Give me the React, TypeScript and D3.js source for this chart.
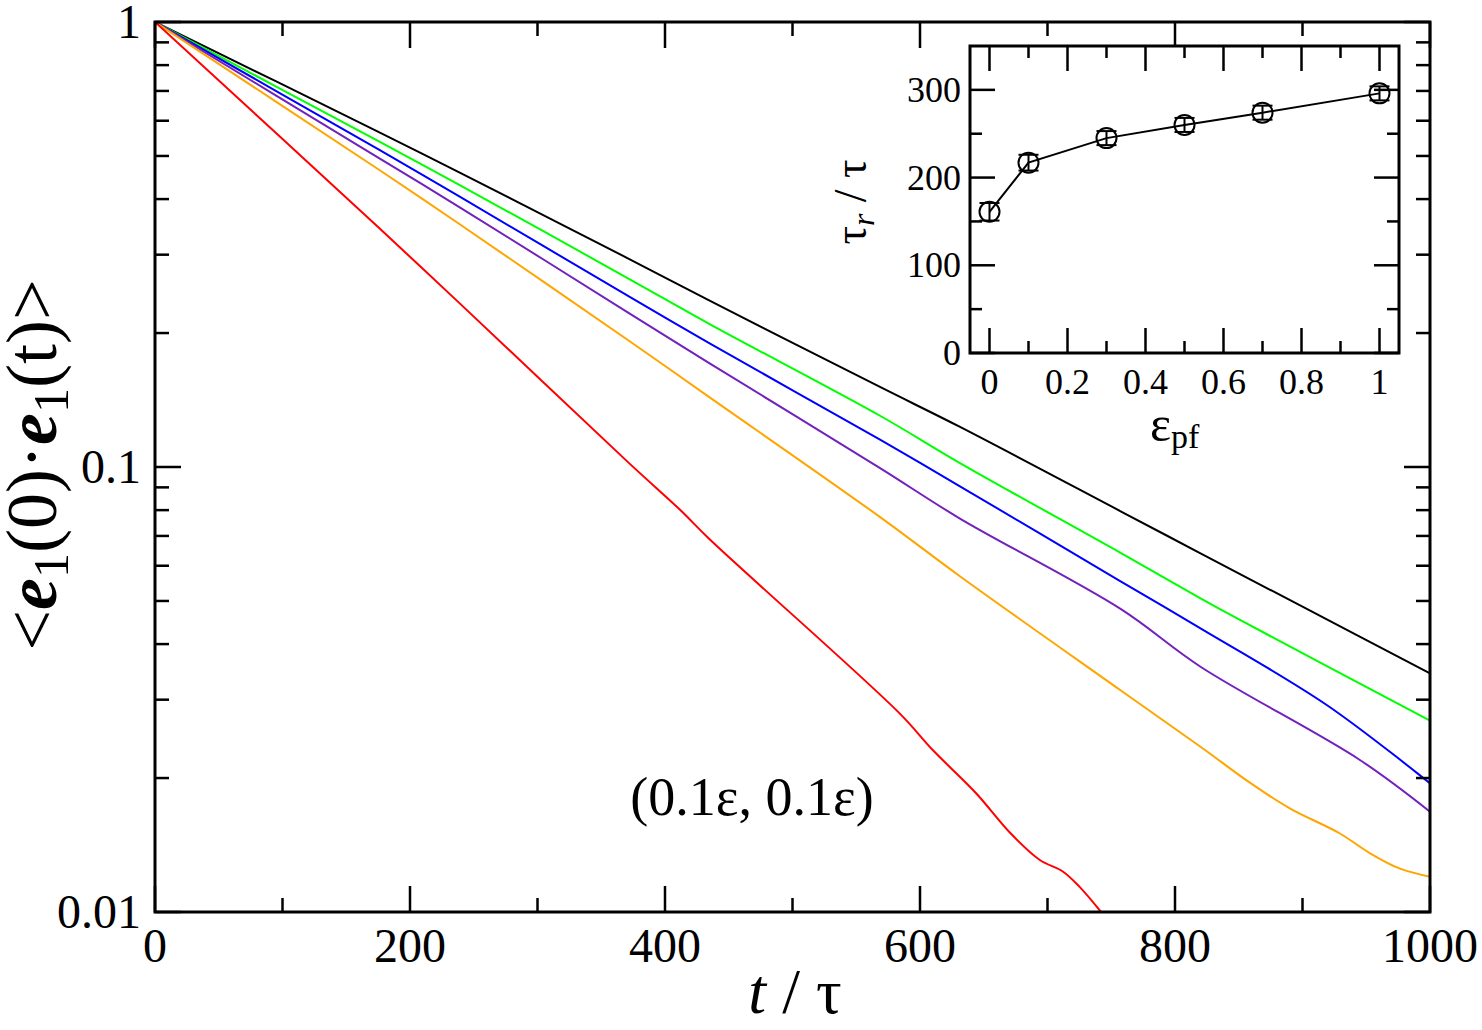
import React from 'react';
import * as d3 from 'd3';

// ---- main panel data: <e1(0)·e1(t)> vs t/τ ----
const tBlack = [0, 176, 239, 372, 435, 569, 631, 757, 820, 900, 1000];
const vBlack = [1, 0.565, 0.4586, 0.2933, 0.2364, 0.1511, 0.1232, 0.07963, 0.06397, 0.04853, 0.03438];

const tGreen = [0, 176, 239, 372, 435, 569, 631, 757, 820, 851, 1000];
const vGreen = [1, 0.5383, 0.4302, 0.2645, 0.2095, 0.1302, 0.1022, 0.0642, 0.05069, 0.04531, 0.02691];

const tBlue = [0, 176, 239, 372, 435, 569, 631, 757, 820, 919, 1000];
const vBlue = [1, 0.5157, 0.4051, 0.2414, 0.1896, 0.115, 0.09063, 0.05543, 0.0434, 0.02919, 0.01946];

const tPurple = [0, 176, 239, 372, 435, 569, 631, 757, 820, 945, 1000];
const vPurple = [1, 0.494, 0.3834, 0.2215, 0.171, 0.09931, 0.07669, 0.04804, 0.03558, 0.02196, 0.0168];

const tOrange = [0, 176, 239, 372, 435, 569, 631, 757, 820, 859, 890, 929, 953, 976, 1000];
const vOrange = [1, 0.4649, 0.3511, 0.1919, 0.1434, 0.07707, 0.0569, 0.03154, 0.02352, 0.0195, 0.0171, 0.01503, 0.01355, 0.01253, 0.012];

const tRed = [0, 176, 239, 372, 412, 435, 584, 610, 644, 671, 694, 712, 725, 742];
const vRed = [1, 0.3438, 0.2332, 0.1019, 0.08006, 0.06879, 0.02795, 0.02312, 0.01849, 0.01503, 0.01309, 0.01233, 0.0114, 0.01];

const seriesColors = ['#000000', '#00ff00', '#0000ff', '#7221bc', '#ffa500', '#ff0000'];

// ---- inset data: τr/τ vs ε_pf ----
const epsPf = [0, 0.1, 0.3, 0.5, 0.7, 1.0];
const tauR = [161, 217, 245, 260, 274, 296];
const tauErr = [10, 9, 8, 8, 8, 8];

const xTicksMain = [0, 200, 400, 600, 800, 1000];
const xMinorMain = [100, 300, 500, 700, 900];
const yMajorMain = [1, 0.1, 0.01];
const yMajorLabels = ['1', '0.1', '0.01'];
const insetXTicks = [0, 0.2, 0.4, 0.6, 0.8, 1];
const insetXLabels = ['0', '0.2', '0.4', '0.6', '0.8', '1'];
const insetXMinor = [0.1, 0.3, 0.5, 0.7, 0.9];
const insetYTicks = [0, 100, 200, 300];
const insetYMinor = [50, 150, 250];

const FONT = "'Liberation Serif', 'Times New Roman', serif";

export default function App() {
  const W = 1482, H = 1030;
  const L = 155, R = 1430, T = 22, B = 912;
  const x = d3.scaleLinear().domain([0, 1000]).range([L, R]);
  const y = d3.scaleLog().domain([0.01, 1]).range([B, T]);

  const series = [
    [tBlack, vBlack],
    [tGreen, vGreen],
    [tBlue, vBlue],
    [tPurple, vPurple],
    [tOrange, vOrange],
    [tRed, vRed],
  ];
  const line = d3.line<[number, number]>().x(d => x(d[0])).y(d => y(d[1])).curve(d3.curveCatmullRom.alpha(0.5));

  const yMinor: number[] = [];
  [0.01, 0.1].forEach(dec => {
    for (let k = 2; k <= 9; k++) yMinor.push(dec * k);
  });

  const MAJ = 26, MIN = 14;

  // inset
  const iL = 970, iR = 1399, iT = 46, iB = 353;
  const ix = d3.scaleLinear().domain([-0.05, 1.05]).range([iL, iR]);
  const iy = d3.scaleLinear().domain([0, 350]).range([iB, iT]);
  const insetPts: [number, number][] = epsPf.map((e, i) => [e, tauR[i]]);
  const iline = d3.line<[number, number]>().x(d => ix(d[0])).y(d => iy(d[1]));
  const IMAJ = 25, IMIN = 12;

  return (
    <svg width={W} height={H} style={{ position: 'absolute', left: 0, top: 0, background: '#fff' }}
      fontFamily={FONT}>
      <rect x={0} y={0} width={W} height={H} fill="#fff" />
      <defs>
        <clipPath id="mainClip">
          <rect x={L} y={T} width={R - L} height={B - T} />
        </clipPath>
      </defs>

      {/* curves */}
      <g clipPath="url(#mainClip)" fill="none" strokeWidth={2}>
        {series.map((s, i) => (
          <path key={i} d={line(s[0].map((t, j) => [t, s[1][j]] as [number, number])) || ''}
            stroke={seriesColors[i]} strokeLinejoin="round" />
        ))}
      </g>

      {/* ticks main */}
      <g stroke="#000" strokeWidth={2.5}>
        {xTicksMain.map(v => (
          <g key={'xt' + v}>
            <line x1={x(v)} x2={x(v)} y1={B} y2={B - MAJ} />
            <line x1={x(v)} x2={x(v)} y1={T} y2={T + MAJ} />
          </g>
        ))}
        {xMinorMain.map(v => (
          <g key={'xm' + v}>
            <line x1={x(v)} x2={x(v)} y1={B} y2={B - MIN} />
            <line x1={x(v)} x2={x(v)} y1={T} y2={T + MIN} />
          </g>
        ))}
        {yMajorMain.map(v => (
          <g key={'yt' + v}>
            <line x1={L} x2={L + MAJ} y1={y(v)} y2={y(v)} />
            <line x1={R} x2={R - MAJ} y1={y(v)} y2={y(v)} />
          </g>
        ))}
        {yMinor.map(v => (
          <g key={'ym' + v}>
            <line x1={L} x2={L + MIN} y1={y(v)} y2={y(v)} />
            <line x1={R} x2={R - MIN} y1={y(v)} y2={y(v)} />
          </g>
        ))}
      </g>
      <rect x={L} y={T} width={R - L} height={B - T} fill="none" stroke="#000" strokeWidth={3} />

      {/* main tick labels */}
      <g fontSize={48} fill="#000">
        {xTicksMain.map(v => (
          <text key={'xl' + v} x={x(v)} y={B + 50} textAnchor="middle">{v}</text>
        ))}
        {yMajorMain.map((v, i) => (
          <text key={'yl' + v} x={L - 14} y={y(v) + 16} textAnchor="end">{yMajorLabels[i]}</text>
        ))}
      </g>

      {/* x label */}
      <text x={795} y={1013} fontSize={64} textAnchor="middle">
        <tspan fontStyle="italic">t</tspan>
        <tspan> / τ</tspan>
      </text>

      {/* y label */}
      <text transform="translate(56,465) rotate(-90)" fontSize={72} textAnchor="middle">
        <tspan>&lt;</tspan>
        <tspan fontWeight="bold" fontStyle="italic">e</tspan>
        <tspan fontSize={50} dy={12}>1</tspan>
        <tspan dy={-12}>(0)·</tspan>
        <tspan fontWeight="bold" fontStyle="italic">e</tspan>
        <tspan fontSize={50} dy={12}>1</tspan>
        <tspan dy={-12}>(t)&gt;</tspan>
      </text>

      {/* annotation */}
      <text x={752} y={815} fontSize={54} textAnchor="middle">(0.1ε, 0.1ε)</text>

      {/* inset */}
      <rect x={iL} y={iT} width={iR - iL} height={iB - iT} fill="#fff" />
      <g stroke="#000" strokeWidth={2.5}>
        {insetXTicks.map(v => (
          <g key={'ixt' + v}>
            <line x1={ix(v)} x2={ix(v)} y1={iB} y2={iB - IMAJ} />
            <line x1={ix(v)} x2={ix(v)} y1={iT} y2={iT + IMAJ} />
          </g>
        ))}
        {insetXMinor.map(v => (
          <g key={'ixm' + v}>
            <line x1={ix(v)} x2={ix(v)} y1={iB} y2={iB - IMIN} />
            <line x1={ix(v)} x2={ix(v)} y1={iT} y2={iT + IMIN} />
          </g>
        ))}
        {insetYTicks.map(v => (
          <g key={'iyt' + v}>
            <line x1={iL} x2={iL + IMAJ} y1={iy(v)} y2={iy(v)} />
            <line x1={iR} x2={iR - IMAJ} y1={iy(v)} y2={iy(v)} />
          </g>
        ))}
        {insetYMinor.map(v => (
          <g key={'iym' + v}>
            <line x1={iL} x2={iL + IMIN} y1={iy(v)} y2={iy(v)} />
            <line x1={iR} x2={iR - IMIN} y1={iy(v)} y2={iy(v)} />
          </g>
        ))}
      </g>
      <rect x={iL} y={iT} width={iR - iL} height={iB - iT} fill="none" stroke="#000" strokeWidth={3} />

      <path d={iline(insetPts) || ''} fill="none" stroke="#000" strokeWidth={2} />
      <g stroke="#000" strokeWidth={2} fill="none">
        {insetPts.map((p, i) => (
          <g key={'pt' + i}>
            <line x1={ix(p[0])} x2={ix(p[0])} y1={iy(p[1] - tauErr[i])} y2={iy(p[1] + tauErr[i])} />
            <line x1={ix(p[0]) - 10} x2={ix(p[0]) + 10} y1={iy(p[1] - tauErr[i])} y2={iy(p[1] - tauErr[i])} />
            <line x1={ix(p[0]) - 10} x2={ix(p[0]) + 10} y1={iy(p[1] + tauErr[i])} y2={iy(p[1] + tauErr[i])} />
            <circle cx={ix(p[0])} cy={iy(p[1])} r={10} />
          </g>
        ))}
      </g>

      <g fontSize={36} fill="#000">
        {insetXTicks.map((v, i) => (
          <text key={'ixl' + v} x={ix(v)} y={iB + 41} textAnchor="middle">{insetXLabels[i]}</text>
        ))}
        {insetYTicks.map(v => (
          <text key={'iyl' + v} x={iL - 9} y={iy(v) + 12} textAnchor="end">{v}</text>
        ))}
      </g>

      <text x={1150} y={441} fontSize={50}>
        <tspan>ε</tspan>
        <tspan fontSize={34} dy={7}>pf</tspan>
      </text>

      <text transform="translate(866,202) rotate(-90)" fontSize={46} textAnchor="middle">
        <tspan>τ</tspan>
        <tspan fontSize={32} fontStyle="italic" dy={8}>r</tspan>
        <tspan dy={-8}> / τ</tspan>
      </text>
    </svg>
  );
}
